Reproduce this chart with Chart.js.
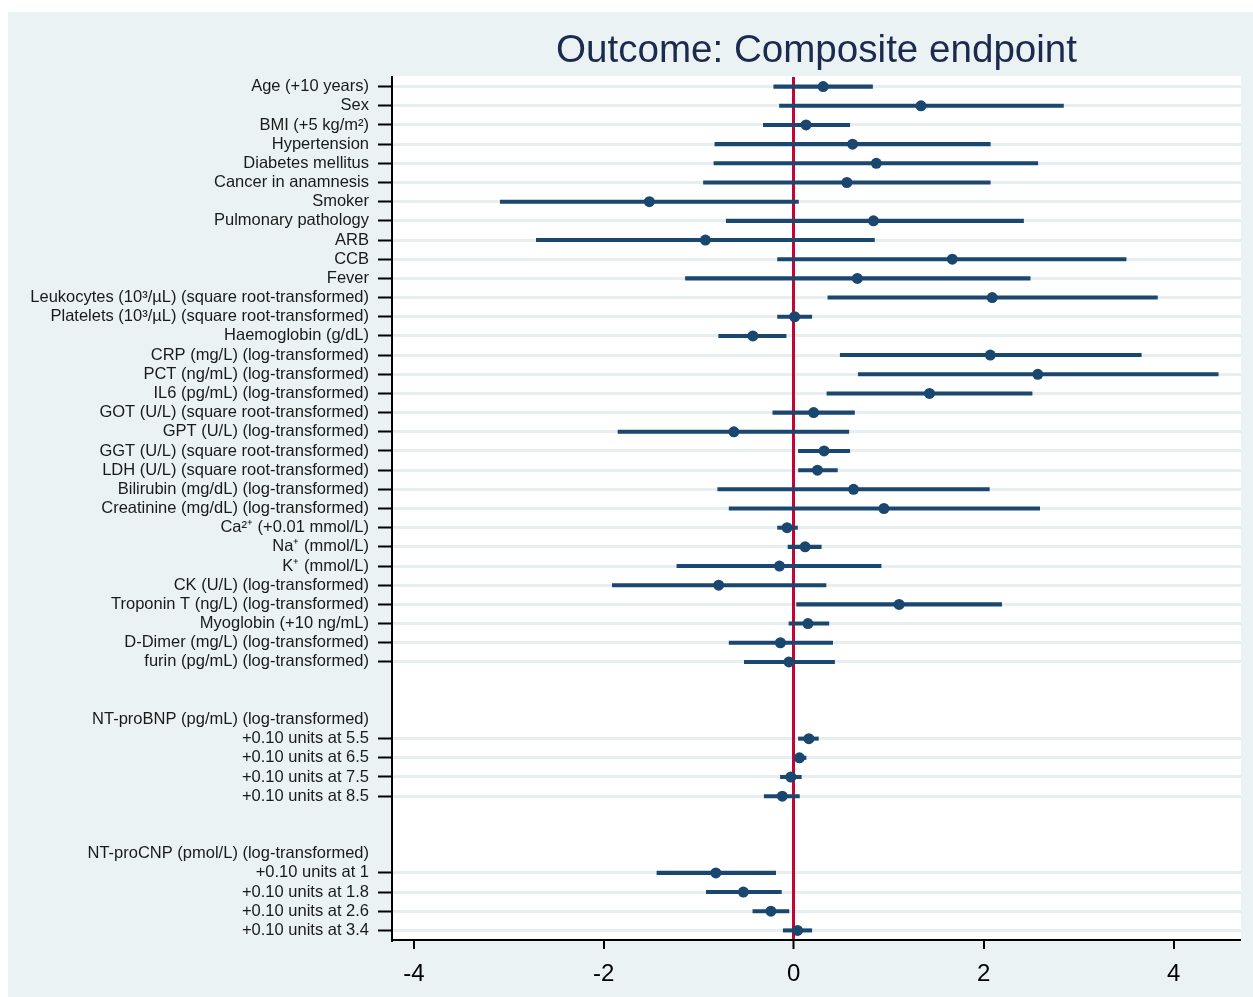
<!DOCTYPE html>
<html>
<head>
<meta charset="utf-8">
<script src="https://cdn.jsdelivr.net/npm/chart.js@4"></script>
<style>
  html, body { margin: 0; padding: 0; background: #ffffff; }
  #wrap { width: 1253px; height: 997px; }
</style>
</head>
<body>
<div id="wrap"><canvas id="c" width="1253" height="997"></canvas></div>
<script>
// ---- data ----
const rowLabels = [
  "Age (+10 years)", "Sex", "BMI (+5 kg/m²)", "Hypertension", "Diabetes mellitus",
  "Cancer in anamnesis", "Smoker", "Pulmonary pathology", "ARB", "CCB", "Fever",
  "Leukocytes (10³/µL) (square root-transformed)", "Platelets (10³/µL) (square root-transformed)",
  "Haemoglobin (g/dL)", "CRP (mg/L) (log-transformed)", "PCT (ng/mL) (log-transformed)",
  "IL6 (pg/mL) (log-transformed)", "GOT (U/L) (square root-transformed)", "GPT (U/L) (log-transformed)",
  "GGT (U/L) (square root-transformed)", "LDH (U/L) (square root-transformed)",
  "Bilirubin (mg/dL) (log-transformed)", "Creatinine (mg/dL) (log-transformed)",
  "Ca²⁺ (+0.01 mmol/L)", "Na⁺ (mmol/L)", "K⁺ (mmol/L)", "CK (U/L) (log-transformed)",
  "Troponin T (ng/L) (log-transformed)", "Myoglobin (+10 ng/mL)", "D-Dimer (mg/L) (log-transformed)",
  "furin (pg/mL) (log-transformed)",
  "", "",
  "NT-proBNP (pg/mL) (log-transformed)", "+0.10 units at 5.5", "+0.10 units at 6.5",
  "+0.10 units at 7.5", "+0.10 units at 8.5",
  "", "",
  "NT-proCNP (pmol/L) (log-transformed)", "+0.10 units at 1", "+0.10 units at 1.8",
  "+0.10 units at 2.6", "+0.10 units at 3.4"
];
const estimates = [
  0.31, 1.34, 0.13, 0.62, 0.87, 0.56, -1.52, 0.84, -0.93, 1.67, 0.67,
  2.09, 0.01, -0.43, 2.07, 2.57, 1.43, 0.21, -0.63, 0.32, 0.25,
  0.63, 0.95, -0.07, 0.12, -0.15, -0.79, 1.11, 0.15, -0.14, -0.05,
  null, null,
  null, 0.16, 0.06, -0.03, -0.12,
  null, null,
  null, -0.82, -0.53, -0.24, 0.04
];
const lowerCI = [
  -0.21, -0.15, -0.32, -0.83, -0.84, -0.95, -3.09, -0.71, -2.71, -0.17, -1.14,
  0.36, -0.17, -0.79, 0.49, 0.68, 0.35, -0.22, -1.85, 0.05, 0.05,
  -0.80, -0.68, -0.17, -0.06, -1.23, -1.91, 0.03, -0.05, -0.68, -0.52,
  null, null,
  null, 0.05, 0.00, -0.14, -0.31,
  null, null,
  null, -1.44, -0.92, -0.43, -0.11
];
const upperCI = [
  0.83, 2.84, 0.59, 2.07, 2.57, 2.07, 0.05, 2.42, 0.85, 3.50, 2.49,
  3.83, 0.19, -0.08, 3.66, 4.47, 2.51, 0.64, 0.58, 0.59, 0.46,
  2.06, 2.59, 0.04, 0.29, 0.92, 0.34, 2.19, 0.37, 0.41, 0.43,
  null, null,
  null, 0.26, 0.13, 0.08, 0.06,
  null, null,
  null, -0.19, -0.13, -0.05, 0.19
];
const xTicks = [-4, -2, 0, 2, 4];
const xMin = -4.23, xMax = 4.71;
const titleText = "Outcome: Composite endpoint";

// ---- styles ----
const NAVY = "#1a476f";
const RED = "#c10534";
const BG = "#eaf2f3";
const GRID = "#e6eef0";
const FONT = "'Liberation Sans', Arial, Helvetica, sans-serif";

const isData = estimates.map(v => v !== null);
const ranges = lowerCI.map((lo, i) => (lo === null ? null : [lo, upperCI[i]]));

const bgPlugin = {
  id: "bgPlugin",
  beforeDraw(chart) {
    const ctx = chart.ctx;
    const a = chart.chartArea;
    ctx.save();
    ctx.fillStyle = "#ffffff";
    ctx.fillRect(0, 0, chart.width, chart.height);
    ctx.fillStyle = BG;
    ctx.fillRect(8, 12, chart.width - 8, chart.height - 12);
    ctx.fillStyle = "#ffffff";
    ctx.fillRect(a.left, a.top - 1, a.right - a.left, a.bottom - a.top + 1);
    ctx.restore();
  }
};

new Chart(document.getElementById("c"), {
  type: "bar",
  data: {
    labels: rowLabels,
    datasets: [
      {
        type: "line",
        indexAxis: "y",
        data: estimates,
        showLine: false,
        pointRadius: 5.5,
        pointHoverRadius: 5.5,
        pointBackgroundColor: NAVY,
        pointBorderColor: NAVY,
        pointBorderWidth: 0,
        order: 0
      },
      {
        type: "bar",
        indexAxis: "y",
        data: ranges,
        backgroundColor: NAVY,
        borderWidth: 0,
        barThickness: 3.4,
        borderSkipped: false,
        order: 1
      }
    ]
  },
  options: {
    indexAxis: "y",
    responsive: false,
    animation: false,
    layout: { padding: { left: 0, right: 12, top: 0, bottom: 0 } },
    plugins: {
      legend: { display: false },
      tooltip: { enabled: false },
      title: {
        display: true,
        text: titleText,
        fullSize: false,
        color: "#1b2a4e",
        font: { family: FONT, size: 38.6, weight: "normal" },
        padding: { top: 28, bottom: 2.7 }
      }
    },
    scales: {
      x: {
        type: "linear",
        min: xMin,
        max: xMax,
        afterBuildTicks: (axis) => { axis.ticks = xTicks.map(v => ({ value: v })); },
        afterFit: (axis) => { axis.height = 57; },
        border: { display: true, color: "#000000", width: 2, z: 1 },
        grid: {
          z: -1,
          drawOnChartArea: true,
          color: (ctx) => (ctx.tick && ctx.tick.value === 0 ? RED : "rgba(0,0,0,0)"),
          lineWidth: (ctx) => (ctx.tick && ctx.tick.value === 0 ? 3 : 0),
          tickColor: "#000000",
          tickWidth: 2,
          tickLength: 9
        },
        ticks: {
          color: "#000000",
          font: { family: FONT, size: 24 },
          padding: 11,
          maxRotation: 0
        }
      },
      y: {
        type: "category",
        offset: true,
        afterFit: (axis) => { axis.width = 392; },
        border: { display: true, color: "#000000", width: 2, z: 1 },
        grid: {
          z: -2,
          offset: false,
          drawOnChartArea: true,
          color: (ctx) => (isData[ctx.index] ? GRID : "rgba(0,0,0,0)"),
          lineWidth: 3,
          tickColor: (ctx) => (isData[ctx.index] ? "#000000" : "rgba(0,0,0,0)"),
          tickWidth: 2,
          tickLength: 14
        },
        ticks: {
          autoSkip: false,
          color: "#1a1a1a",
          font: { family: FONT, size: 16.5 },
          padding: 9
        }
      }
    }
  },
  plugins: [bgPlugin]
});
</script>
</body>
</html>
